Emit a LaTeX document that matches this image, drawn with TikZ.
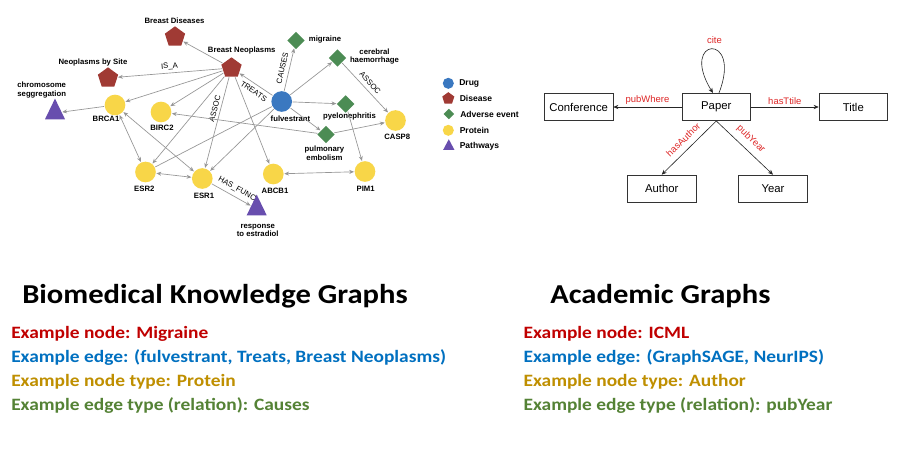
\documentclass[tikz,border=0pt]{standalone}
\usepackage{fontspec}
\setmainfont{Liberation Sans}
\newfontfamily\calib[FakeStretch=1.12]{Carlito}
\usetikzlibrary{shapes.geometric,arrows.meta}
\definecolor{drug}{RGB}{58,120,192}
\definecolor{disease}{RGB}{160,58,52}
\definecolor{adverse}{RGB}{76,140,84}
\definecolor{protein}{RGB}{248,214,72}
\definecolor{pathway}{RGB}{104,78,174}
\definecolor{edgegray}{RGB}{150,150,150}
\definecolor{exred}{RGB}{192,0,0}
\definecolor{exblue}{RGB}{0,112,192}
\definecolor{exgold}{RGB}{191,143,0}
\definecolor{exgreen}{RGB}{84,130,53}
\definecolor{acred}{RGB}{222,40,40}
\begin{document}
\begin{tikzpicture}[x=0.75pt,y=-0.75pt,
  drugn/.style={circle,fill=drug,inner sep=0pt,minimum size=15.5pt,outer sep=0.5pt},
  protn/.style={circle,fill=protein,inner sep=0pt,minimum size=15.5pt,outer sep=0.5pt},
  disn/.style={regular polygon,regular polygon sides=5,fill=disease,inner sep=0pt,minimum size=16pt,outer sep=0.5pt},
  advn/.style={diamond,fill=adverse,inner sep=0pt,minimum size=13.5pt,outer sep=0.5pt},
  pathn/.style={isosceles triangle,isosceles triangle stretches,shape border rotate=90,fill=pathway,inner sep=0pt,minimum width=15pt,minimum height=15.5pt,outer sep=0.5pt},
  nlbl/.style={font=\fontsize{5.8}{6.6}\selectfont\bfseries,align=center,inner sep=0pt},
  elbl/.style={font=\fontsize{5.8}{6.5}\selectfont,inner sep=2pt},
  legl/.style={font=\fontsize{6.4}{7.5}\selectfont\bfseries,anchor=west,inner sep=0pt},
  bedge/.style={draw=edgegray,line width=0.5pt,-{Stealth[length=3.6pt,width=3pt]}},
  bboth/.style={draw=edgegray,line width=0.5pt,{Stealth[length=3.6pt,width=3pt]}-{Stealth[length=3.6pt,width=3pt]}},
  bplain/.style={draw=edgegray,line width=0.5pt},
  abox/.style={draw=black!80,line width=0.5pt,minimum width=51.4pt,minimum height=20.5pt,inner sep=0pt,font=\fontsize{8.5}{10}\selectfont},
  aarr/.style={draw=black!85,line width=0.45pt,-{Stealth[length=3.8pt,width=3.2pt]}},
  albl/.style={font=\fontsize{7.1}{8}\selectfont,text=acred,inner sep=1.5pt},
  ttl/.style={font=\calib\bfseries\fontsize{20.5}{24}\selectfont,anchor=base west,inner sep=0pt},
  exl/.style={font=\calib\bfseries\fontsize{13}{15}\selectfont,anchor=base west,inner sep=0pt}]
\useasboundingbox[fill=white] (0,0) rectangle (906,454);

% ---------------- Biomedical graph nodes
\node[disn] (bd) at (175,37) {};
\node[disn] (bn) at (231.5,68) {};
\node[disn] (nbs) at (108,78) {};
\node[pathn] (chr) at (55,113) {};
\node[protn] (brca1) at (115,105) {};
\node[protn] (birc2) at (161,112) {};
\node[advn] (mig) at (296,40.5) {};
\node[advn] (cer) at (337.5,58) {};
\node[drugn] (ful) at (281.7,101.5) {};
\node[advn] (pyel) at (345.7,104) {};
\node[protn] (casp8) at (395.5,120.5) {};
\node[advn] (pulm) at (326,134.5) {};
\node[protn] (esr2) at (145.5,172) {};
\node[protn] (esr1) at (202.3,178.5) {};
\node[protn] (abcb1) at (273.3,174) {};
\node[protn] (pim1) at (365,171.5) {};
\node[pathn] (resp) at (256.7,209) {};

% labels
\node[nlbl] (lbd) at (174.5,20.5) {Breast Diseases};
\node[nlbl] (lbn) at (241.7,50.5) {Breast Neoplasms};
\node[nlbl] (lnbs) at (93,62.5) {Neoplasms by Site};
\node[nlbl] (lchr) at (41.7,90) {chromosome\\seggregation};
\node[nlbl] (lbrca1) at (106,118.5) {BRCA1};
\node[nlbl] (lbirc2) at (162,128.3) {BIRC2};
\node[nlbl] (lmig) at (325,40) {migraine};
\node[nlbl] (lcer) at (374.5,56.5) {cerebral\\haemorrhage};
\node[nlbl] (lful) at (290.5,118.5) {fulvestrant};
\node[nlbl] (lpyel) at (349.5,116.8) {pyelonephritis};
\node[nlbl] (lcasp8) at (397.3,136.8) {CASP8};
\node[nlbl] (lpulm) at (324.5,153) {pulmonary\\embolism};
\node[nlbl] (lesr2) at (144.3,189.2) {ESR2};
\node[nlbl] (lesr1) at (204,195.8) {ESR1};
\node[nlbl] (labcb1) at (275,191.2) {ABCB1};
\node[nlbl] (lpim1) at (365.7,189.2) {PIM1};
\node[nlbl] (lresp) at (257.7,230.5) {response\\to estradiol};

% edges
\draw[bedge] (bn) -- (bd);
\draw[bedge] (bn) -- node[elbl,above,sloped] (eisa) {IS\_A} (nbs);
\draw[bedge] (bn) -- (brca1);
\draw[bedge] (bn) -- (birc2);
\draw[bedge] (bn) -- (esr2);
\draw[bedge] (bn) -- node[elbl,above,sloped,pos=0.36] (eassoc1) {ASSOC} (esr1);
\draw[bedge] (bn) -- (abcb1);
\draw[bedge] (ful) -- node[elbl,below=1pt,sloped,pos=0.45] (etreats) {TREATS} (bn);
\draw[bedge] (ful) -- node[elbl,above=1pt,sloped,pos=0.5] (ecauses) {CAUSES} (mig);
\draw[bedge] (ful) -- (cer);
\draw[bedge] (ful) -- (pyel);
\draw[bedge] (ful) -- (pulm);
\draw[bplain] (ful) -- (esr2);
\draw[bedge] (ful) -- (esr1);
\draw[bedge] (cer) -- node[elbl,above=1pt,sloped,pos=0.5] (eassoc2) {ASSOC} (casp8);
\draw[bedge] (pyel) -- (pim1);
\draw[bedge] (pulm) -- (casp8);
\draw[bedge] (pulm) -- (birc2);
\draw[bedge] (brca1) -- (chr);
\draw[bboth] (brca1) -- (esr2);
\draw[bboth] (brca1) -- (esr1);
\draw[bboth] (esr2) -- (esr1);
\draw[bboth] (abcb1) -- (pim1);
\draw[bedge] (esr1) -- node[elbl,above=1pt,sloped,pos=0.55] (ehas) {HAS\_FUNC} (resp);

% legend
\node[circle,fill=drug,inner sep=0pt,minimum size=8.3pt] (gdrug) at (448.3,83.3) {};
\node[regular polygon,regular polygon sides=5,fill=disease,inner sep=0pt,minimum size=9.5pt] (gdis) at (448.3,98.5) {};
\node[diamond,fill=adverse,inner sep=0pt,minimum size=8pt] (gadv) at (448.8,114) {};
\node[circle,fill=protein,inner sep=0pt,minimum size=8.3pt] (gprot) at (448.3,130.3) {};
\node[isosceles triangle,isosceles triangle stretches,shape border rotate=90,fill=pathway,inner sep=0pt,minimum width=8.5pt,minimum height=8pt] (gpath) at (448.8,146.5) {};
\node[legl] (tdrug) at (459,83.3) {Drug};
\node[legl] (tdis) at (459.5,98.5) {Disease};
\node[legl] (tadv) at (460,114) {Adverse event};
\node[legl] (tprot) at (459.5,130.3) {Protein};
\node[legl] (tpath) at (459.5,146.5) {Pathways};

% ---------------- Academic graph
\node[abox] (conf) at (578.7,107) {Conference};
\node[abox] (paper) at (716.3,107) {Paper};
\node[abox] (title) at (853.3,107) {Title};
\node[abox] (author) at (661.7,188.7) {Author};
\node[abox] (year) at (773,188.7) {Year};
\draw[aarr] (paper) -- node[albl,above] (lpw) {pubWhere} (conf);
\draw[aarr] (paper) -- node[albl,above] (lht) {hasTtile} (title);
\draw[aarr] (paper.south) -- node[albl,above=3pt,sloped,pos=0.48] (lha) {hasAuthor} (author.north);
\draw[aarr] (paper.south) -- node[albl,above=3pt,sloped,pos=0.48] (lpy) {pubYear} (year.north);
\draw[aarr] ([xshift=2pt]paper.north) .. controls +(18pt,46pt) and +(-26pt,42pt) .. ([xshift=-2.5pt]paper.north);
\node[albl] (lcite) at (714.5,40) {cite};

% ---------------- Text
\node[ttl] (t1) at (22,303.3) {Biomedical Knowledge Graphs};
\node[ttl] (t2) at (550,303.3) {Academic Graphs};
\node[exl,text=exred] (a1) at (11,338) {Example node: Migraine};
\node[exl,text=exblue] (a2) at (11,362.3) {Example edge: (fulvestrant, Treats, Breast Neoplasms)};
\node[exl,text=exgold] (a3) at (11,386.5) {Example node type: Protein};
\node[exl,text=exgreen] (a4) at (11,410.5) {Example edge type (relation): Causes};
\node[exl,text=exred] (b1) at (523.3,338) {Example node: ICML};
\node[exl,text=exblue] (b2) at (523.3,362.3) {Example edge: (GraphSAGE, NeurIPS)};
\node[exl,text=exgold] (b3) at (523.3,386.5) {Example node type: Author};
\node[exl,text=exgreen] (b4) at (523.3,410.5) {Example edge type (relation): pubYear};
\end{tikzpicture}
\end{document}
